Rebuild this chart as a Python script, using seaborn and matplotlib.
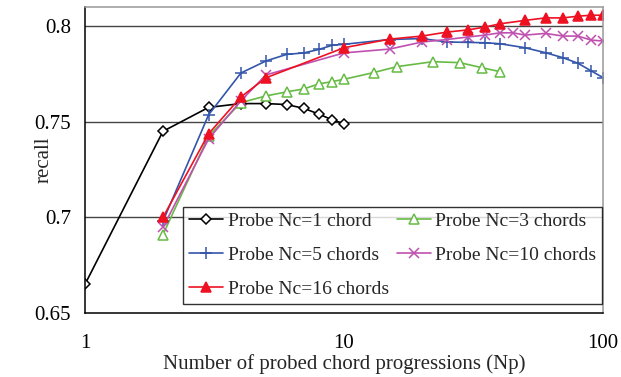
import seaborn as sns
import pandas as pd
import matplotlib.pyplot as plt

#data
np_nc1 = [1, 2, 3, 4, 5, 6, 7, 8, 9, 10]
recall_nc1 = [0.665, 0.745, 0.7575, 0.7595, 0.7595, 0.759, 0.757, 0.754, 0.751, 0.749]

np_nc3 = [2, 3, 4, 5, 6, 7, 8, 9, 10, 13, 16, 22, 28, 34, 40]
recall_nc3 = [0.691, 0.7425, 0.760, 0.7635, 0.7656, 0.7672, 0.7698, 0.771, 0.7722,
              0.7757, 0.7788, 0.7814, 0.7809, 0.7783, 0.7762]

np_nc5 = [2, 3, 4, 5, 6, 7, 8, 9, 10, 15, 20, 25, 30, 35, 40, 50, 60, 70, 80, 90, 100]
recall_nc5 = [0.698, 0.7536, 0.7755, 0.7818, 0.7852, 0.786, 0.7878, 0.790, 0.7905,
              0.793, 0.7935, 0.7917, 0.7915, 0.7913, 0.7908, 0.7887, 0.7861, 0.7835,
              0.7806, 0.7766, 0.7731]

np_nc10 = [2, 3, 4, 5, 10, 15, 20, 25, 30, 35, 40, 45, 50, 60, 70, 80, 90, 100]
recall_nc10 = [0.6948, 0.741, 0.761, 0.7745, 0.786, 0.788, 0.7917, 0.793, 0.7943,
               0.7953, 0.7965, 0.7965, 0.7953, 0.7962, 0.7948, 0.7948, 0.7927, 0.7922]

np_nc16 = [2, 3, 4, 5, 10, 15, 20, 25, 30, 35, 40, 50, 60, 70, 80, 90, 100]
recall_nc16 = [0.700, 0.7437, 0.763, 0.773, 0.7887, 0.7932, 0.7948, 0.7969, 0.798,
               0.7995, 0.8012, 0.803, 0.8043, 0.8043, 0.8052, 0.8057, 0.8057]

#set the theme
sns.set_style('white')
plt.rcParams['font.family'] = ['Liberation Serif', 'DejaVu Serif']

fig = plt.figure(figsize=(6.21, 3.77), dpi=100)
ax = fig.add_axes([85/621, 1-313/377, 518/621, 306/377])
ax.set_xscale('log')

#series styles
series = [
    ('Probe Nc=1 chord', np_nc1, recall_nc1, '#000000', 'D', 5, 'white'),
    ('Probe Nc=3 chords', np_nc3, recall_nc3, '#66BB44', '^', 7, 'white'),
    ('Probe Nc=5 chords', np_nc5, recall_nc5, '#3355AA', '+', 9, 'none'),
    ('Probe Nc=10 chords', np_nc10, recall_nc10, '#C050B0', 'x', 7, 'none'),
    ('Probe Nc=16 chords', np_nc16, recall_nc16, '#EE1122', '^', 7, '#EE1122'),
]

for label, xs, ys, col, mk, ms, mfc in series:
    df = pd.DataFrame({'np': xs, 'recall': ys})
    sns.lineplot(data=df, x='np', y='recall', ax=ax, color=col, lw=1.2,
                 marker=mk, markersize=ms, markerfacecolor=mfc,
                 markeredgecolor=col, markeredgewidth=1.1, label=label)

ax.set_xlim(1, 100)
ax.set_ylim(0.65, 0.81)
ax.set_xticks([1, 10, 100])
ax.set_xticklabels(['1', '10', '100'])
ax.xaxis.set_minor_locator(plt.NullLocator())
ax.set_yticks([0.65, 0.7, 0.75, 0.8])
ax.set_yticklabels(['0.65', '0.7', '0.75', '0.8'])

#horizontal grid lines
for yv in [0.7, 0.75, 0.8]:
    ax.axhline(yv, color='#444444', lw=1.0, zorder=0.5)

ax.tick_params(axis='both', direction='in', length=4, width=1, labelsize=15, colors='#000000')
ax.tick_params(axis='x', pad=15)
ax.tick_params(axis='y', pad=10)

for side in ['left', 'bottom']:
    ax.spines[side].set_color('#000000')
    ax.spines[side].set_linewidth(1.1)
for side in ['top', 'right']:
    ax.spines[side].set_color('#999999')
    ax.spines[side].set_linewidth(1.1)

ax.set_xlabel('Number of probed chord progressions (Np)', fontsize=15, labelpad=1)
ax.set_ylabel('recall', fontsize=15)
ax.yaxis.set_label_coords(-0.06, 0.5)

#legend in two columns, first column 1,5,16
h, l = ax.get_legend_handles_labels()
order = [0, 2, 4, 1, 3]
leg = ax.legend([h[i] for i in order], [l[i] for i in order], ncol=2,
                loc='lower left', bbox_to_anchor=(0.189, 0.029), borderaxespad=0,
                fontsize=14, frameon=True, fancybox=False, edgecolor='#000000',
                handlelength=1.75, handletextpad=0.25, columnspacing=0.4,
                labelspacing=0.85, borderpad=0.3)
leg.get_frame().set_linewidth(1.0)

fig.savefig('out.png', dpi=100)
